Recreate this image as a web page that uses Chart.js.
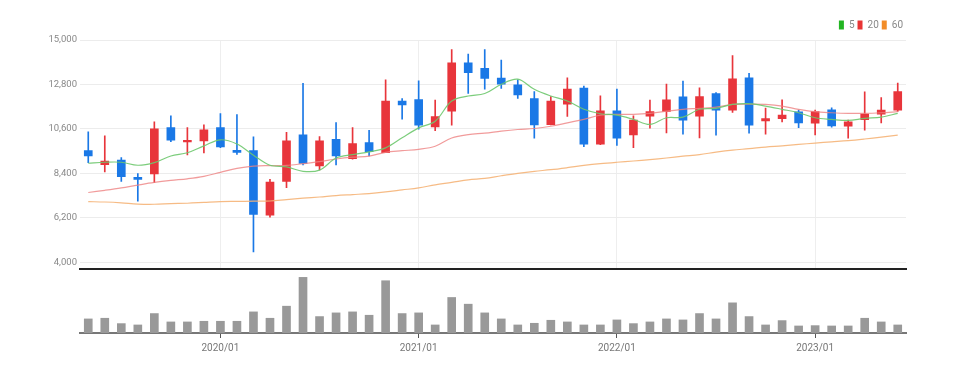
<!DOCTYPE html>
<html>
<head>
<meta charset="utf-8">
<script src="https://cdn.jsdelivr.net/npm/chart.js@4.4.0/dist/chart.umd.min.js"></script>
<style>
  html, body { margin: 0; padding: 0; background: #fff; }
  #wrap { position: relative; width: 959px; height: 374px; }
  #priceBox { position: absolute; left: 0; top: 0; width: 959px; height: 278px; z-index: 2; }
  #volBox { position: absolute; left: 0; top: 271px; width: 959px; height: 103px; z-index: 1; }
</style>
</head>
<body>
<div id="wrap">
  <div id="priceBox"><canvas id="priceChart"></canvas></div>
  <div id="volBox"><canvas id="volChart"></canvas></div>
</div>
<script>
const labels = [
  '2019/05','2019/06','2019/07','2019/08','2019/09','2019/10','2019/11','2019/12',
  '2020/01','2020/02','2020/03','2020/04','2020/05','2020/06','2020/07','2020/08','2020/09','2020/10','2020/11','2020/12',
  '2021/01','2021/02','2021/03','2021/04','2021/05','2021/06','2021/07','2021/08','2021/09','2021/10','2021/11','2021/12',
  '2022/01','2022/02','2022/03','2022/04','2022/05','2022/06','2022/07','2022/08','2022/09','2022/10','2022/11','2022/12',
  '2023/01','2023/02','2023/03','2023/04','2023/05','2023/06'
];

const openP  = [9525, 8830, 9062, 8200, 8367,10667, 9955,10003,10667, 9542, 9525, 6333, 8004,10303, 8764,10088, 9126, 9922, 9426,11973,
               12056,10700,11477,13875,13594,13114,12784,12106,10815,11822,12618, 9840,11493,10303,11227,11460,12188,11227,12354,11524,
               13131,10995,11111,11444,10880,11543,10733,11061,11328,11527];
const closeP = [9261, 9012, 8235, 8100,10600,10038,10038,10551, 9705, 9440, 6366, 7970,10005, 8897,10005, 9261, 9870, 9476,11973,11791,
               10782,11212,13875,13379,13098,12817,12285,10799,11973,12569, 9840,11493,10137,11030,11460,12039,11030,12205,11524,13081,
               10782,11111,11279,10896,11460,10747,10948,11328,11527,12453];
const highP  = [10451,10253, 9178, 8384,10948,11245,10667,10799,11361,11312,10203, 8103,10435,12850,10220,10915,10667,10534,13032,12106,
               12982,12023,14520,14305,14520,14008,13032,12453,12205,13131,12717,12238,12569,11245,12023,12817,12966,12635,12403,14223,
               13346,11626,12039,11527,11527,11642,11030,12436,12155,12866];
const lowP   = [8930, 8465, 8001, 7028, 7935, 9972, 9308, 9407, 9672, 9341, 4514, 6234, 7689, 8814, 8566, 8814, 9100, 9261, 9420,11080,
               10584,10518,10782,12354,12569,12602,12106,10137,10800,11212, 9724, 9820, 9788, 9674,10631,10402,10337,10152,10286,11411,
               10383,10336,10945,10664,10303,10681,10137,10534,10896,11460];

const ma5  = [8900, 8950, 8950, 8800, 8930, 9260, 9420, 9760,10060, 9850, 9300, 8800, 8720, 8500, 8560, 9160, 9330, 9460, 9660,10160,
              10650,10980,11980,12230,12350,12810,13060,12560,12230,11980,11570,11350,11280,11070,10820,11150,11180,11570,11620,11810,
              11850,11730,11570,11400,11150,11070,11020,11120,11180,11370];
const ma20 = [7450, 7560, 7680, 7820, 7950, 8050, 8130, 8250, 8450, 8650, 8760, 8780, 8790, 8880, 8980, 9110, 9200, 9250, 9440, 9520,
              9590, 9740,10150,10320,10390,10490,10570,10620,10730,10900,11070,11280,11320,11320,11370,11480,11570,11620,11680,11810,
              11830,11810,11730,11570,11450,11400,11370,11370,11400,11450];
const ma60 = [7000, 6980, 6940, 6880, 6870, 6900, 6920, 6960, 7000, 7010, 7020, 7030, 7100, 7170, 7230, 7300, 7350, 7400, 7480, 7580,
              7680, 7830, 7950, 8080, 8150, 8280, 8400, 8500, 8580, 8680, 8790, 8880, 8950, 9010, 9080, 9160, 9250, 9330, 9450, 9550,
              9620, 9700, 9760, 9830, 9900, 9960,10020,10100,10190,10290];

const volume = [42, 44, 28, 24, 58, 33, 33, 35, 35, 35, 63, 44, 80,166, 49, 60, 63, 53,156, 58,
                60, 24,106, 86, 60, 42, 24, 29, 38, 33, 24, 24, 39, 28, 33, 42, 39, 58, 42, 90,
                49, 24, 37, 21, 22, 21, 21, 44, 33, 24];

const priceTicks = [4000, 6200, 8400, 10600, 12800, 15000];

const UP = '#e8353b';
const DOWN = '#1a78e6';
const FONT = "'Liberation Sans Narrow', 'Roboto', sans-serif";
const AXIS_W = 80;
const RIGHT_PAD = 53;

const candleColors = openP.map((o, i) => closeP[i] >= o ? UP : DOWN);
const isYear = i => labels[i] && labels[i].endsWith('/01');

const priceChart = new Chart(document.getElementById('priceChart'), {
    type: 'bar',
    data: {
        labels: labels,
        datasets: [
            {
                label: 'wick',
                data: lowP.map((l, i) => [l, highP[i]]),
                backgroundColor: candleColors,
                barThickness: 1,
                grouped: false,
                order: 2
            },
            {
                label: 'body',
                data: openP.map((o, i) => [o, closeP[i]]),
                backgroundColor: candleColors,
                barThickness: 8,
                grouped: false,
                order: 1
            },
            {
                type: 'line', label: '5', data: ma5,
                borderColor: 'rgba(110,200,110,0.9)', backgroundColor: '#22b522',
                borderWidth: 1.2, pointRadius: 0, tension: 0.35, order: 0
            },
            {
                type: 'line', label: '20', data: ma20,
                borderColor: 'rgba(238,130,130,0.8)', backgroundColor: '#e83434',
                borderWidth: 1.2, pointRadius: 0, tension: 0.35, order: 0
            },
            {
                type: 'line', label: '60', data: ma60,
                borderColor: 'rgba(245,180,120,0.9)', backgroundColor: '#f28c28',
                borderWidth: 1.2, pointRadius: 0, tension: 0.35, order: 0
            }
        ]
    },
    options: {
        responsive: true,
        maintainAspectRatio: false,
        animation: false,
        layout: { padding: { left: 0, right: RIGHT_PAD, top: 17, bottom: 0 } },
        plugins: {
            tooltip: { enabled: false },
            legend: {
                position: 'top',
                align: 'end',
                labels: {
                    boxWidth: 5,
                    boxHeight: 9,
                    padding: 3,
                    color: '#888',
                    font: { family: FONT, size: 10 },
                    filter: item => item.datasetIndex >= 2,
                    generateLabels: chart => chart.data.datasets.map((ds, i) => ({
                        text: ds.label,
                        fillStyle: ds.backgroundColor,
                        strokeStyle: ds.backgroundColor,
                        lineWidth: 0,
                        fontColor: '#888',
                        datasetIndex: i
                    }))
                }
            }
        },
        scales: {
            x: {
                offset: true,
                ticks: { display: false },
                grid: {
                    offset: false,
                    drawTicks: false,
                    color: ctx => isYear(ctx.index) ? '#eeeeee' : 'rgba(0,0,0,0)'
                },
                border: { color: '#222', width: 2 }
            },
            y: {
                min: 3650,
                max: 15000,
                afterBuildTicks: scale => { scale.ticks = priceTicks.map(v => ({ value: v })); },
                afterFit: scale => { scale.width = AXIS_W; },
                ticks: {
                    color: '#888',
                    padding: 3,
                    font: { family: FONT, size: 9.5 },
                    callback: v => v.toLocaleString('en-US')
                },
                grid: { color: '#ececec', drawTicks: false },
                border: { display: false }
            }
        }
    }
});

const volChart = new Chart(document.getElementById('volChart'), {
    type: 'bar',
    data: {
        labels: labels,
        datasets: [{
            label: 'volume',
            data: volume,
            backgroundColor: '#999999',
            barThickness: 8
        }]
    },
    options: {
        responsive: true,
        maintainAspectRatio: false,
        animation: false,
        layout: { padding: { left: AXIS_W, right: RIGHT_PAD, top: 0, bottom: 16 } },
        plugins: { legend: { display: false }, tooltip: { enabled: false } },
        scales: {
            x: {
                offset: true,
                ticks: {
                    autoSkip: false,
                    maxRotation: 0,
                    padding: 4,
                    color: '#777',
                    font: { family: FONT, size: 10 },
                    callback: function (v, i) { return isYear(i) ? labels[i] : ''; }
                },
                grid: {
                    offset: false,
                    drawOnChartArea: false,
                    tickLength: 5,
                    color: ctx => isYear(ctx.index) ? '#555' : 'rgba(0,0,0,0)'
                },
                border: { color: '#777', width: 2 }
            },
            y: {
                display: false,
                min: 0,
                max: 185
            }
        }
    }
});
</script>
</body>
</html>
